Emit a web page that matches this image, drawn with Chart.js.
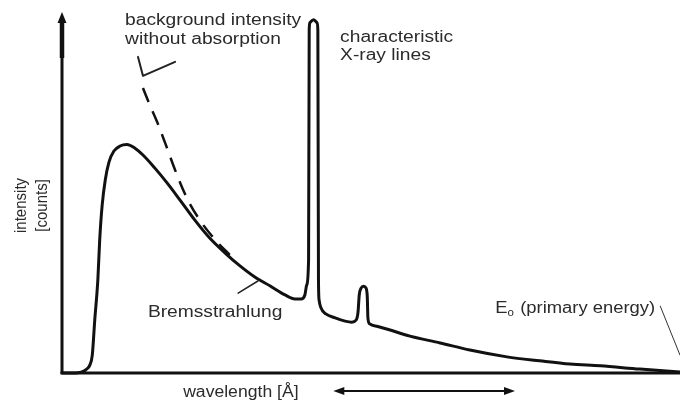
<!DOCTYPE html>
<html>
<head>
<meta charset="utf-8">
<script src="https://cdn.jsdelivr.net/npm/chart.js@4/dist/chart.umd.min.js"></script>
<style>
  html, body { margin: 0; padding: 0; background: #fff; }
  canvas { display: block; }
</style>
</head>
<body>
<canvas id="myChart" width="680" height="405"></canvas>
<script>
// spectrum: wavelength (arbitrary units) vs intensity (counts, arbitrary units)
const spectrumX = [0, 2.6, 3.6, 4.0, 4.5, 4.9, 5.3, 5.8, 6.1, 6.5,
  7.0, 7.6, 8.4, 9.4, 10.5, 11.8, 13.1, 15.0, 17.0, 19.1,
  21.5, 23.9, 26.4, 28.8, 31.2, 33.7, 36.1, 37.7, 38.7, 39.3,
  39.6, 39.9, 40.0, 40.1, 40.7, 41.3, 41.4, 41.5, 41.6, 41.9,
  42.7, 44.2, 45.8, 46.9, 47.6, 47.9, 48.1, 48.4, 48.8, 49.2,
  49.4, 49.5, 49.8, 51.1, 53.1, 56.3, 61.2, 66.0, 72.0, 77.3,
  82.2, 87.1, 93.5, 100];
const spectrumY = [0, 0.1, 0.6, 1.1, 2.2, 5.0, 14.8, 26.0, 37.2, 46.9,
  53.9, 58.9, 62.0, 63.4, 63.8, 62.8, 60.9, 57.3, 53.1, 48.3,
  42.7, 37.7, 33.5, 29.9, 26.8, 24.3, 21.8, 20.7, 20.7, 21.8,
  24.6, 31.6, 95.8, 97.8, 98.7, 97.8, 95.8, 26.0, 20.4, 18.2,
  16.5, 15.4, 14.5, 14.2, 14.8, 17.0, 21.8, 23.7, 24.2, 23.7,
  21.2, 15.4, 13.7, 13.0, 12.0, 10.3, 8.4, 6.4, 4.5, 3.4,
  2.5, 2.0, 1.1, 0.3];

// background intensity without absorption (dashed)
const backgroundX = [13.1, 14.2, 15.4, 16.7, 18.3, 20.2, 22.3, 24.8, 27.5];
const backgroundY = [79.6, 74.9, 70.1, 64.2, 56.7, 48.9, 42.7, 37.2, 32.4];

// leader lines of the annotations
const tickX = [12.3, 13.1, 18.3];
const tickY = [88.3, 83.0, 86.9];
const bremsLeaderX = [28.5, 31.7];
const bremsLeaderY = [22.3, 25.7];
const e0LeaderX = [96.8, 100];
const e0LeaderY = [18.7, 5.0];

const toPoints = (xs, ys) => xs.map((v, i) => ({ x: v, y: ys[i] }));

const INK = "#111";
const TEXT = "#2b2b2b";
const FAMILY = '"Liberation Sans", Arial, sans-serif';

const decor = {
  id: "decor",
  afterDatasetsDraw(chart) {
    const { ctx, chartArea: a, scales: { x, y } } = chart;
    ctx.save();

    // axes
    ctx.strokeStyle = INK;
    ctx.fillStyle = INK;
    ctx.lineWidth = 3;
    ctx.beginPath();
    ctx.moveTo(a.left - 1.5, a.bottom);
    ctx.lineTo(a.right, a.bottom);
    ctx.stroke();
    ctx.beginPath();
    ctx.moveTo(a.left, a.bottom);
    ctx.lineTo(a.left, a.top + 6);
    ctx.stroke();
    ctx.lineWidth = 4.5;
    ctx.beginPath();
    ctx.moveTo(a.left, a.top + 6);
    ctx.lineTo(a.left, a.top + 43);
    ctx.stroke();
    ctx.beginPath();
    ctx.moveTo(a.left, a.top - 3);
    ctx.lineTo(a.left - 4.5, a.top + 8);
    ctx.lineTo(a.left + 4.5, a.top + 8);
    ctx.closePath();
    ctx.fill();

    // texts
    ctx.fillStyle = TEXT;
    ctx.textBaseline = "alphabetic";
    const put = (str, xv, yv, stretch) => {
      ctx.save();
      ctx.font = "16px " + FAMILY;
      ctx.textAlign = "left";
      ctx.translate(x.getPixelForValue(xv), y.getPixelForValue(yv));
      ctx.scale(stretch, 1);
      ctx.fillText(str, 0, 0);
      ctx.restore();
    };
    const putUp = (str, xv, yv) => {
      ctx.save();
      ctx.font = "15px " + FAMILY;
      ctx.textAlign = "center";
      ctx.translate(x.getPixelForValue(xv), y.getPixelForValue(yv));
      ctx.scale(1.1, 1);
      ctx.rotate(-Math.PI / 2);
      ctx.fillText(str, 0, 0);
      ctx.restore();
    };
    put("background intensity", 10.2, 97.3, 1.2);
    put("without absorption", 10.2, 92.0, 1.2);
    put("characteristic", 45.0, 92.5, 1.2);
    put("X-ray lines", 45.0, 87.4, 1.2);
    put("Bremsstrahlung", 13.9, 15.6, 1.2);
    put("wavelength [Å]", 19.6, -6.7, 1.1);
    putUp("intensity", -5.9, 46.8);
    putUp("[counts]", -2.5, 46.8);

    // E0 (primary energy) with subscript
    ctx.save();
    ctx.font = "16px " + FAMILY;
    ctx.textAlign = "left";
    ctx.translate(x.getPixelForValue(70.1), y.getPixelForValue(16.8));
    ctx.scale(1.15, 1);
    ctx.fillText("E", 0, 0);
    let w = ctx.measureText("E").width;
    ctx.font = "10px " + FAMILY;
    ctx.fillText("o", w, 3);
    w += ctx.measureText("o").width + 1;
    ctx.font = "16px " + FAMILY;
    ctx.fillText(" (primary energy)", w, 0);
    ctx.restore();

    // double arrow below the wavelength axis
    const ay = y.getPixelForValue(-5.0);
    const x1 = x.getPixelForValue(43.9);
    const x2 = x.getPixelForValue(73.3);
    ctx.strokeStyle = INK;
    ctx.fillStyle = INK;
    ctx.lineWidth = 2;
    ctx.beginPath();
    ctx.moveTo(x1 + 6, ay);
    ctx.lineTo(x2 - 6, ay);
    ctx.stroke();
    ctx.beginPath();
    ctx.moveTo(x1, ay);
    ctx.lineTo(x1 + 11, ay - 4);
    ctx.lineTo(x1 + 11, ay + 4);
    ctx.closePath();
    ctx.fill();
    ctx.beginPath();
    ctx.moveTo(x2, ay);
    ctx.lineTo(x2 - 11, ay - 4);
    ctx.lineTo(x2 - 11, ay + 4);
    ctx.closePath();
    ctx.fill();

    ctx.restore();
  },
};

const line = (xs, ys, extra) => Object.assign({
  data: toPoints(xs, ys),
  showLine: true,
  pointRadius: 0,
  borderColor: INK,
  borderWidth: 3,
  borderCapStyle: "round",
  borderJoinStyle: "round",
  fill: false,
  clip: false,
}, extra);

const config = {
  type: "scatter",
  data: {
    datasets: [
      line(spectrumX, spectrumY, { label: "spectrum", cubicInterpolationMode: "monotone" }),
      line(backgroundX, backgroundY, { label: "background", borderWidth: 2.5, borderDash: [15, 10], borderCapStyle: "butt", cubicInterpolationMode: "monotone" }),
      line(tickX, tickY, { label: "tick", borderWidth: 2, borderColor: "#222" }),
      line(bremsLeaderX, bremsLeaderY, { label: "brems", borderWidth: 1.5, borderColor: "#222" }),
      line(e0LeaderX, e0LeaderY, { label: "e0", borderWidth: 1, borderColor: "#333" }),
    ],
  },
  options: {
    responsive: false,
    animation: false,
    events: [],
    layout: { padding: { left: 62, top: 15, right: 0, bottom: 32 } },
    scales: {
      x: { type: "linear", min: 0, max: 100, display: false },
      y: { type: "linear", min: 0, max: 100, display: false },
    },
    plugins: { legend: { display: false }, tooltip: { enabled: false } },
  },
  plugins: [decor],
};

new Chart(document.getElementById("myChart"), config);
</script>
</body>
</html>
